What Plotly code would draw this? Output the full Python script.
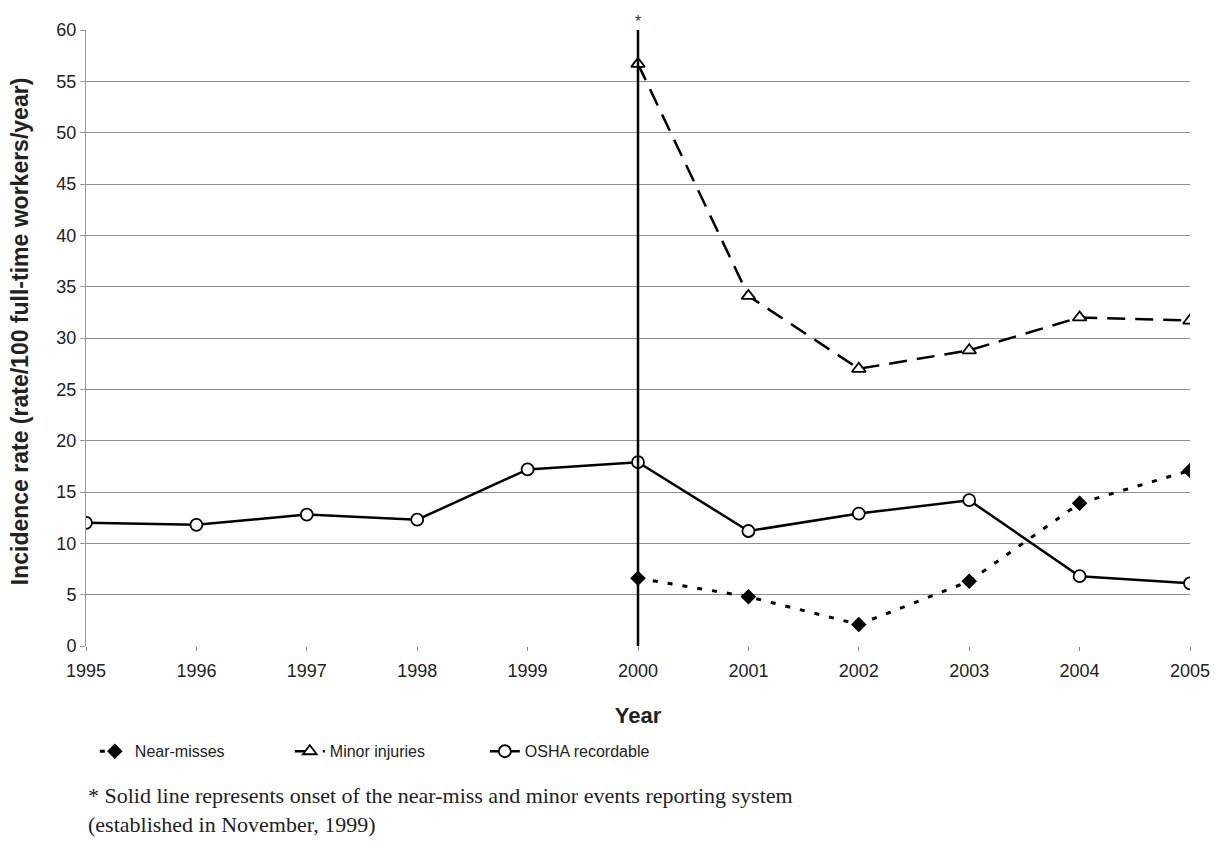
import plotly.graph_objects as go

years = [1995, 1996, 1997, 1998, 1999, 2000, 2001, 2002, 2003, 2004, 2005]
osha_recordable = [12.0, 11.8, 12.8, 12.3, 17.2, 17.9, 11.2, 12.9, 14.2, 6.8, 6.1]
event_years = [2000, 2001, 2002, 2003, 2004, 2005]
near_misses = [6.6, 4.8, 2.1, 6.3, 13.9, 17.1]
minor_injuries = [56.7, 34.1, 27.0, 28.8, 32.0, 31.7]
onset_year = 2000
y_ticks = list(range(0, 61, 5))
y_title = "<b>Incidence rate (rate/100 full-time workers/year)</b>"
footnote_lines = [
    "* Solid line represents onset of the near-miss and minor events reporting system",
    "(established in November, 1999)",
]

fig = go.Figure()
fig.add_trace(go.Scatter(
    x=event_years, y=near_misses, name="Near-misses", mode="lines+markers",
    line=dict(color="black", width=3, dash="5px,10px"),
    marker=dict(symbol="diamond", size=12, color="black")))
fig.add_trace(go.Scatter(
    x=event_years, y=minor_injuries, name="Minor injuries", mode="lines+markers",
    line=dict(color="black", width=2.5, dash="18px,10px"),
    marker=dict(symbol="triangle-up", size=12, color="white", line=dict(color="black", width=1.8))))
fig.add_trace(go.Scatter(
    x=years, y=osha_recordable, name="OSHA recordable", mode="lines+markers",
    line=dict(color="black", width=2.5),
    marker=dict(symbol="circle", size=12, color="white", line=dict(color="black", width=1.8))))

fig.add_shape(type="line", xref="x", yref="y", x0=onset_year, x1=onset_year, y0=0, y1=60,
              line=dict(color="black", width=2.5), layer="above")
fig.add_annotation(x=onset_year, y=60, xref="x", yref="y", text="*", showarrow=False,
                   yanchor="bottom", yshift=-2, font=dict(family="Liberation Sans", size=16, color="#333"))

fig.add_annotation(xref="paper", yref="paper", x=-0.0598, y=0.511, xanchor="center", yanchor="middle",
                   textangle=-90, showarrow=False, text=y_title,
                   font=dict(family="Liberation Sans", size=23, color="#222"))

fig.add_annotation(xref="paper", yref="paper", x=0.0, y=-0.267,
                   xanchor="left", yanchor="middle", align="left", showarrow=False,
                   text="<br>".join(footnote_lines),
                   font=dict(family="Liberation Serif", size=22, color="#222"))

fig.update_layout(
    width=1219, height=836,
    margin=dict(l=78, r=37, t=18, b=198),
    plot_bgcolor="white", paper_bgcolor="white",
    font=dict(family="Liberation Sans", color="#222"),
    showlegend=True,
    legend=dict(orientation="h", x=0.008, y=-0.171, xanchor="left", yanchor="middle",
                font=dict(size=16, family="Liberation Sans"), entrywidth=150,
                bgcolor="rgba(0,0,0,0)"),
)
fig.update_xaxes(range=[1995, 2005], tickvals=years, ticktext=[str(y) for y in years],
                 showgrid=False, showline=False, ticks="outside", ticklen=4, tickcolor="#888",
                 tickfont=dict(size=18), zeroline=False, ticklabelstandoff=4,
                 title=dict(text="<b>Year</b>", font=dict(size=22), standoff=28))
fig.update_yaxes(range=[0, 60], tickvals=y_ticks, showgrid=True, gridcolor="#8f8f8f", gridwidth=1.4,
                 showline=True, linecolor="#999", linewidth=1, ticks="outside", ticklen=5, tickcolor="#999",
                 tickfont=dict(size=18), zeroline=False)

fig.write_html("out.html")
